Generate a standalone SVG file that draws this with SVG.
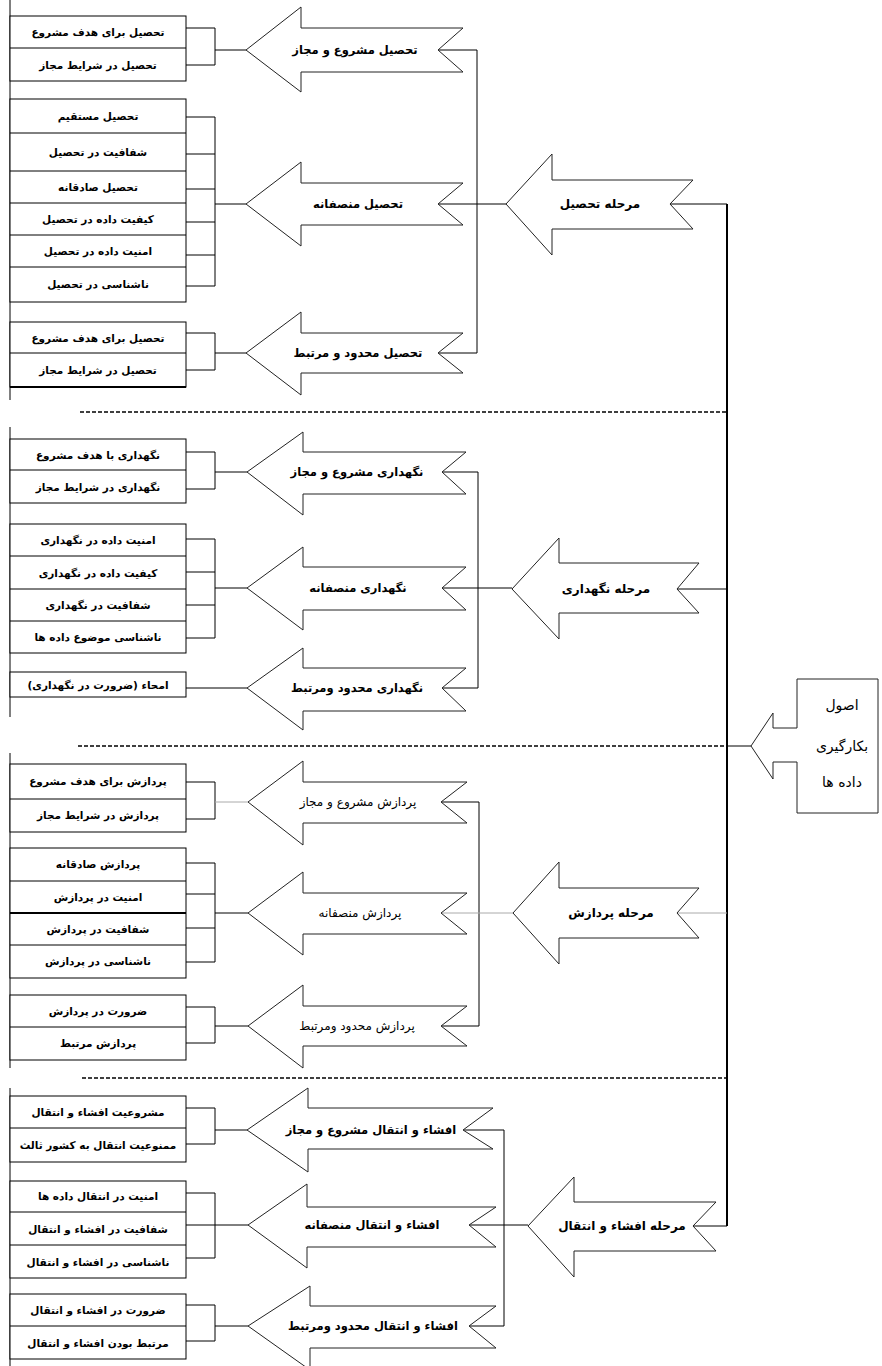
<svg xmlns="http://www.w3.org/2000/svg" width="882" height="1366" viewBox="0 0 882 1366">
<style>
.bg{fill:#fff}
.box{fill:#fff;stroke:#000;stroke-width:1}
.arr{fill:#fff;stroke:#222;stroke-width:1}
.ln{fill:none;stroke:#000;stroke-width:1}
.lg{fill:none;stroke:#aaa;stroke-width:1}
.main{fill:none;stroke:#000;stroke-width:2}
.dash{fill:none;stroke:#000;stroke-width:1.6;stroke-dasharray:4 2}
.t{font-family:"DejaVu Sans",sans-serif;font-size:10.5px;font-weight:bold;fill:#000;text-anchor:middle;direction:rtl}
.a{font-family:"DejaVu Sans",sans-serif;font-size:11.5px;font-weight:bold;fill:#000;text-anchor:middle;direction:rtl}
.an{font-family:"DejaVu Sans",sans-serif;font-size:12px;fill:#000;text-anchor:middle;direction:rtl}
.s{font-family:"DejaVu Sans",sans-serif;font-size:12px;font-weight:bold;fill:#000;text-anchor:middle;direction:rtl}
.r{font-family:"DejaVu Sans",sans-serif;font-size:14px;fill:#000;text-anchor:middle;direction:rtl}
</style>
<rect class="bg" x="0" y="0" width="882" height="1366"/>

<g id="connectors">
  <path class="ln" d="M10,0 V400 M10,427 V717 M10,753 V1068 M10,1088 V1366"/>
  <path class="dash" d="M80,412 H727 M78,746 H727 M82,1078 H727"/>
  <path class="main" d="M727,204 V1226"/>
  <path class="ln" d="M727,746 H751"/>
  <path class="ln" d="M186,28 H215 M186,65 H215 M215,28 V65 M215,50 H246"/>
  <path class="ln" d="M186,117 H215 M186,154 H215 M186,189 H215 M186,222 H215 M186,255 H215 M186,286 H215 M215,117 V286 M215,204 H246"/>
  <path class="ln" d="M186,333 H215 M186,370 H215 M215,333 V370 M215,353 H246"/>
  <path class="ln" d="M438,50 H477 V353 H438 M438,204 H506 M670,204 H727"/>
  <path class="ln" d="M186,452 H215 M186,489 H215 M215,452 V489 M215,472 H247"/>
  <path class="ln" d="M186,539 H215 M186,572 H215 M186,605 H215 M186,638 H215 M215,539 V638 M215,588 H247"/>
  <path class="ln" d="M186,688 H247"/>
  <path class="ln" d="M442,472 H478 V688 H442 M442,588 H512 M677,589 H727"/>
  <path class="ln" d="M186,782 H215 M186,819 H215 M215,782 V819"/>
  <path class="lg" d="M215,802 H248"/>
  <path class="ln" d="M186,863 H215 M186,894 H215 M186,928 H215 M186,962 H215 M215,863 V962 M215,913 H248"/>
  <path class="ln" d="M186,1007 H215 M186,1043 H215 M215,1007 V1043 M215,1026 H248"/>
  <path class="ln" d="M441,802 H479 V1026 H441"/>
  <path class="lg" d="M441,913 H513 M677,913 H727"/>
  <path class="ln" d="M186,1108 H215 M186,1144 H215 M215,1108 V1144 M215,1130 H247"/>
  <path class="ln" d="M186,1193 H215 M186,1225 H215 M186,1258 H215 M215,1193 V1258 M215,1225 H248"/>
  <path class="ln" d="M186,1305 H215 M186,1341 H215 M215,1305 V1341 M215,1326 H248"/>
  <path class="ln" d="M463,1130 H504 V1326 H469 M469,1225 H528 M693,1226 H727"/>
</g>

<g id="root">
  <polygon class="arr" points="751,746 773,713 773,728 797,728 797,679 878,679 878,813 797,813 797,762 773,762 773,779"/>
  <text class="r" x="842" y="710">اصول</text>
  <text class="r" x="842" y="751">بکارگیری</text>
  <text class="r" x="842" y="787">داده ها</text>
</g>

<g id="stage1">
  <polygon class="arr" points="506,204 552,154 552,180 693,180 670,204 693,229 552,229 552,255"/>
  <text class="s" x="600" y="208">مرحله تحصیل</text>
</g>
<g id="s1a1">
  <polygon class="arr" points="246,50 301,7 301,28 463,28 438,50 463,72 301,72 301,92"/>
  <text class="a" x="355" y="54">تحصیل مشروع و مجاز</text>
</g>
<g id="s1a2">
  <polygon class="arr" points="246,204 301,162 301,183 463,183 438,204 463,225 301,225 301,246"/>
  <text class="a" x="358" y="208">تحصیل منصفانه</text>
</g>
<g id="s1a3">
  <polygon class="arr" points="246,353 301,312 301,333 463,333 438,353 463,373 301,373 301,395"/>
  <text class="a" x="358" y="357">تحصیل محدود و مرتبط</text>
</g>
<g id="s1g1">
  <rect class="box" x="10" y="16" width="176" height="65"/>
  <line class="ln" x1="10" y1="48" x2="186" y2="48"/>
  <text class="t" x="98" y="36">تحصیل برای هدف مشروع</text>
  <text class="t" x="98" y="69">تحصیل در شرایط مجاز</text>
</g>
<g id="s1g2">
  <rect class="box" x="10" y="99" width="176" height="203"/>
  <path class="ln" d="M10,133 H186 M10,171 H186 M10,203 H186 M10,235 H186 M10,267 H186"/>
  <text class="t" x="98" y="120">تحصیل مستقیم</text>
  <text class="t" x="98" y="156">شفافیت در تحصیل</text>
  <text class="t" x="98" y="191">تحصیل صادقانه</text>
  <text class="t" x="98" y="223">کیفیت داده در تحصیل</text>
  <text class="t" x="98" y="255">امنیت داده در تحصیل</text>
  <text class="t" x="98" y="288">ناشناسی در تحصیل</text>
</g>
<g id="s1g3">
  <rect class="box" x="10" y="322" width="176" height="65"/>
  <line class="ln" x1="10" y1="353" x2="186" y2="353"/>
  <line class="main" x1="10" y1="387" x2="186" y2="387"/>
  <text class="t" x="98" y="342">تحصیل برای هدف مشروع</text>
  <text class="t" x="98" y="374">تحصیل در شرایط مجاز</text>
</g>

<g id="stage2">
  <polygon class="arr" points="512,589 559,538 559,563 699,563 677,589 699,613 559,613 559,639"/>
  <text class="s" x="606" y="593">مرحله نگهداری</text>
</g>
<g id="s2a1">
  <polygon class="arr" points="247,472 303,432 303,452 466,452 442,472 466,494 303,494 303,515"/>
  <text class="a" x="357" y="476">نگهداری مشروع و مجاز</text>
</g>
<g id="s2a2">
  <polygon class="arr" points="247,588 303,547 303,567 466,567 442,588 466,610 303,610 303,630"/>
  <text class="a" x="358" y="592">نگهداری منصفانه</text>
</g>
<g id="s2a3">
  <polygon class="arr" points="247,688 303,648 303,668 466,668 442,688 466,711 303,711 303,730"/>
  <text class="a" x="357" y="692">نگهداری محدود ومرتبط</text>
</g>
<g id="s2g1">
  <rect class="box" x="10" y="439" width="176" height="64"/>
  <line class="ln" x1="10" y1="470" x2="186" y2="470"/>
  <text class="t" x="98" y="459">نگهداری با هدف مشروع</text>
  <text class="t" x="98" y="491">نگهداری در شرایط مجاز</text>
</g>
<g id="s2g2">
  <rect class="box" x="10" y="524" width="176" height="129"/>
  <path class="ln" d="M10,556 H186 M10,589 H186 M10,621 H186"/>
  <text class="t" x="98" y="544">امنیت داده در نگهداری</text>
  <text class="t" x="98" y="577">کیفیت داده در نگهداری</text>
  <text class="t" x="98" y="609">شفافیت در نگهداری</text>
  <text class="t" x="98" y="641">ناشناسی موضوع داده ها</text>
</g>
<g id="s2g3">
  <rect class="box" x="10" y="672" width="176" height="25"/>
  <text class="t" x="98" y="689">امحاء (ضرورت در نگهداری)</text>
</g>

<g id="stage3">
  <polygon class="arr" points="513,913 559,862 559,888 699,888 677,913 699,938 559,938 559,964"/>
  <text class="s" x="611" y="917">مرحله پردازش</text>
</g>
<g id="s3a1">
  <polygon class="arr" points="248,802 303,761 303,782 467,782 441,802 467,823 303,823 303,845"/>
  <text class="an" x="358" y="806">پردازش مشروع و مجاز</text>
</g>
<g id="s3a2">
  <polygon class="arr" points="248,913 303,872 303,893 467,893 441,913 467,934 303,934 303,955"/>
  <text class="an" x="360" y="917">پردازش منصفانه</text>
</g>
<g id="s3a3">
  <polygon class="arr" points="248,1026 303,985 303,1006 467,1006 441,1026 467,1046 303,1046 303,1068"/>
  <text class="an" x="357" y="1030">پردازش محدود ومرتبط</text>
</g>
<g id="s3g1">
  <rect class="box" x="10" y="764" width="176" height="68"/>
  <line class="ln" x1="10" y1="799" x2="186" y2="799"/>
  <text class="t" x="98" y="785">پردازش برای هدف مشروع</text>
  <text class="t" x="98" y="819">پردازش در شرایط مجاز</text>
</g>
<g id="s3g2">
  <rect class="box" x="10" y="848" width="176" height="130"/>
  <path class="ln" d="M10,881 H186 M10,945 H186"/>
  <line class="main" x1="10" y1="913" x2="186" y2="913"/>
  <text class="t" x="98" y="868">پردازش صادقانه</text>
  <text class="t" x="98" y="901">امنیت در پردازش</text>
  <text class="t" x="98" y="933">شفافیت در پردازش</text>
  <text class="t" x="98" y="965">ناشناسی در پردازش</text>
</g>
<g id="s3g3">
  <rect class="box" x="10" y="995" width="176" height="65"/>
  <line class="ln" x1="10" y1="1027" x2="186" y2="1027"/>
  <text class="t" x="98" y="1015">ضرورت در پردازش</text>
  <text class="t" x="98" y="1047">پردازش مرتبط</text>
</g>

<g id="stage4">
  <polygon class="arr" points="528,1226 574,1177 574,1202 716,1202 693,1226 716,1251 574,1251 574,1277"/>
  <text class="s" x="622" y="1230">مرحله افشاء و انتقال</text>
</g>
<g id="s4a1">
  <polygon class="arr" points="247,1130 308,1088 308,1108 493,1108 463,1130 493,1149 308,1149 308,1172"/>
  <text class="a" x="371" y="1134">افشاء و انتقال مشروع و مجاز</text>
</g>
<g id="s4a2">
  <polygon class="arr" points="248,1225 307,1184 307,1207 496,1207 469,1225 496,1247 307,1247 307,1268"/>
  <text class="a" x="372" y="1229">افشاء و انتقال منصفانه</text>
</g>
<g id="s4a3">
  <polygon class="arr" points="248,1326 310,1286 310,1306 496,1306 469,1326 496,1348 310,1348 310,1370"/>
  <text class="a" x="373" y="1330">افشاء و انتقال محدود ومرتبط</text>
</g>
<g id="s4g1">
  <rect class="box" x="10" y="1096" width="176" height="66"/>
  <line class="ln" x1="10" y1="1128" x2="186" y2="1128"/>
  <text class="t" x="98" y="1116">مشروعیت افشاء و انتقال</text>
  <text class="t" x="98" y="1149">ممنوعیت انتقال به کشور ثالث</text>
</g>
<g id="s4g2">
  <rect class="box" x="10" y="1181" width="176" height="97"/>
  <path class="ln" d="M10,1212 H186 M10,1245 H186"/>
  <text class="t" x="98" y="1200">امنیت در انتقال داده ها</text>
  <text class="t" x="98" y="1233">شفافیت در افشاء و انتقال</text>
  <text class="t" x="98" y="1266">ناشناسی در افشاء و انتقال</text>
</g>
<g id="s4g3">
  <rect class="box" x="10" y="1294" width="176" height="65"/>
  <line class="ln" x1="10" y1="1326" x2="186" y2="1326"/>
  <text class="t" x="98" y="1314">ضرورت در افشاء و انتقال</text>
  <text class="t" x="98" y="1347">مرتبط بودن افشاء و انتقال</text>
</g>
</svg>
